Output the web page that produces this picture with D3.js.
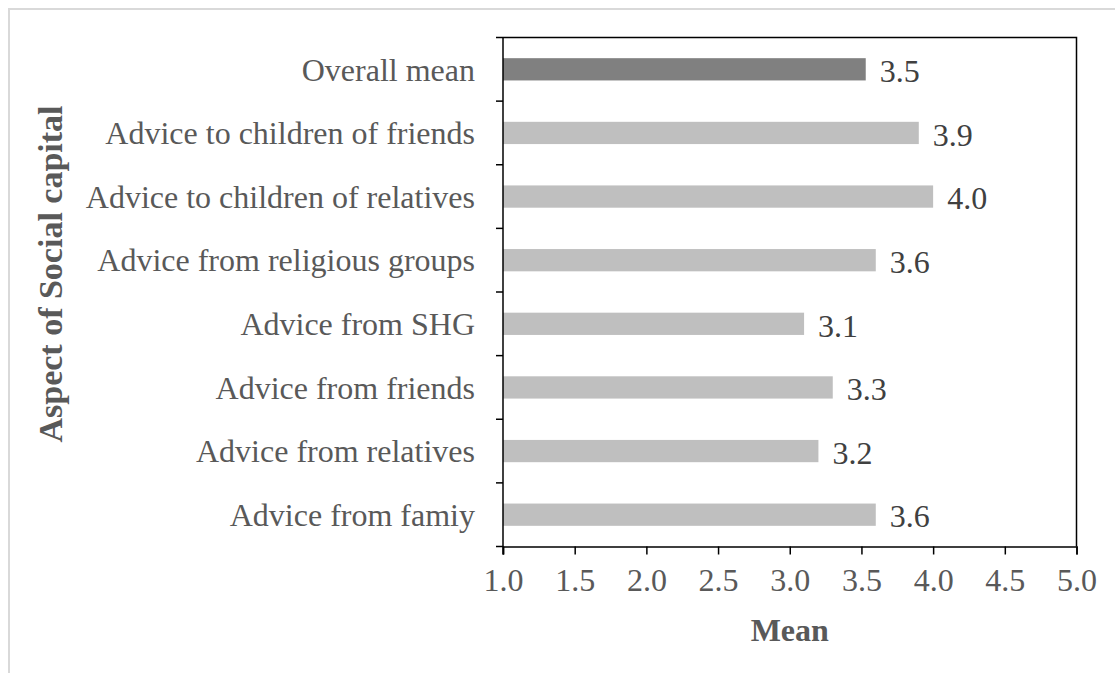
<!DOCTYPE html>
<html>
<head>
<meta charset="utf-8">
<script src="https://cdn.jsdelivr.net/npm/d3@7"></script>
<style>
  html, body { margin: 0; padding: 0; background: #fff; }
  svg { display: block; font-family: "Liberation Serif", "Times New Roman", serif; }
</style>
</head>
<body>
<svg id="chart" width="1115" height="673"></svg>
<script>
// Mean scores for each aspect of social capital (top to bottom)
const categories = [
  "Overall mean",
  "Advice to children of friends",
  "Advice to children of relatives",
  "Advice from religious groups",
  "Advice from SHG",
  "Advice from friends",
  "Advice from relatives",
  "Advice from famiy"
];
const meanValues = [3.53, 3.9, 4.0, 3.6, 3.1, 3.3, 3.2, 3.6];
const xTicks = [1.0, 1.5, 2.0, 2.5, 3.0, 3.5, 4.0, 4.5, 5.0];
const xTitle = "Mean";
const yTitle = "Aspect of Social capital";

const svg = d3.select("#chart");
const W = 1115, H = 673;
const m = { left: 503, right: 1076.5, top: 37.5, bottom: 546.5 };
const FS = 32;

// Outer frame (only left and top edges show within the view)
svg.append("rect")
  .attr("x", 9).attr("y", 9)
  .attr("width", W + 20).attr("height", H + 20)
  .attr("fill", "none").attr("stroke", "#d9d9d9").attr("stroke-width", 2);

const x = d3.scaleLinear().domain([1, 5]).range([m.left, m.right]);
const y = d3.scaleBand().domain(categories).range([m.top, m.bottom]).paddingInner(0.65).paddingOuter(0.325);

// Bars
svg.append("g").selectAll("rect")
  .data(categories)
  .join("rect")
  .attr("x", x(1))
  .attr("y", d => y(d))
  .attr("width", (d, i) => x(meanValues[i]) - x(1))
  .attr("height", y.bandwidth())
  .attr("fill", (d, i) => i === 0 ? "#808080" : "#bfbfbf");

// Value labels
svg.append("g").selectAll("text")
  .data(categories)
  .join("text")
  .attr("x", (d, i) => x(meanValues[i]) + 14)
  .attr("y", d => y(d) + y.bandwidth() / 2)
  .attr("dy", "0.4em")
  .attr("font-size", FS)
  .attr("fill", "#404040")
  .text((d, i) => meanValues[i].toFixed(1));

// Plot frame (top and right edges)
svg.append("path")
  .attr("d", `M${m.left},${m.top}H${m.right}V${m.bottom}`)
  .attr("fill", "none").attr("stroke", "#000").attr("stroke-width", 1.5);

// X axis
const xAxis = svg.append("g")
  .attr("transform", `translate(0,${m.bottom})`)
  .call(d3.axisBottom(x).tickValues(xTicks).tickFormat(d3.format(".1f")).tickSize(8).tickPadding(14));
xAxis.select(".domain").attr("stroke", "#000").attr("stroke-width", 1.5);
xAxis.selectAll(".tick line").attr("stroke", "#000").attr("stroke-width", 1.5);
xAxis.selectAll(".tick text")
  .attr("font-size", FS).attr("font-family", "Liberation Serif, serif").attr("fill", "#595959");

// Y axis: ticks at band boundaries, labels at band centres
const step = y.step();
const boundaries = d3.range(categories.length + 1).map(i => m.top + i * step);
const yAxis = svg.append("g");
yAxis.append("line")
  .attr("x1", m.left).attr("x2", m.left)
  .attr("y1", m.top).attr("y2", m.bottom + 8)
  .attr("stroke", "#000").attr("stroke-width", 1.5);
yAxis.selectAll("line.tk")
  .data(boundaries)
  .join("line").attr("class", "tk")
  .attr("x1", m.left - 7).attr("x2", m.left)
  .attr("y1", d => d).attr("y2", d => d)
  .attr("stroke", "#000").attr("stroke-width", 1.5);
yAxis.selectAll("text")
  .data(categories)
  .join("text")
  .attr("x", m.left - 28)
  .attr("y", d => y(d) + y.bandwidth() / 2)
  .attr("dy", "0.35em")
  .attr("text-anchor", "end")
  .attr("font-size", FS)
  .attr("fill", "#595959")
  .text(d => d);

// Axis titles
svg.append("text")
  .attr("x", (m.left + m.right) / 2).attr("y", 641)
  .attr("text-anchor", "middle")
  .attr("font-size", FS).attr("font-weight", "bold").attr("fill", "#595959")
  .text(xTitle);

svg.append("text")
  .attr("transform", `translate(62,274) rotate(-90)`)
  .attr("text-anchor", "middle")
  .attr("font-size", 34).attr("font-weight", "bold").attr("fill", "#595959")
  .text(yTitle);
</script>
</body>
</html>
